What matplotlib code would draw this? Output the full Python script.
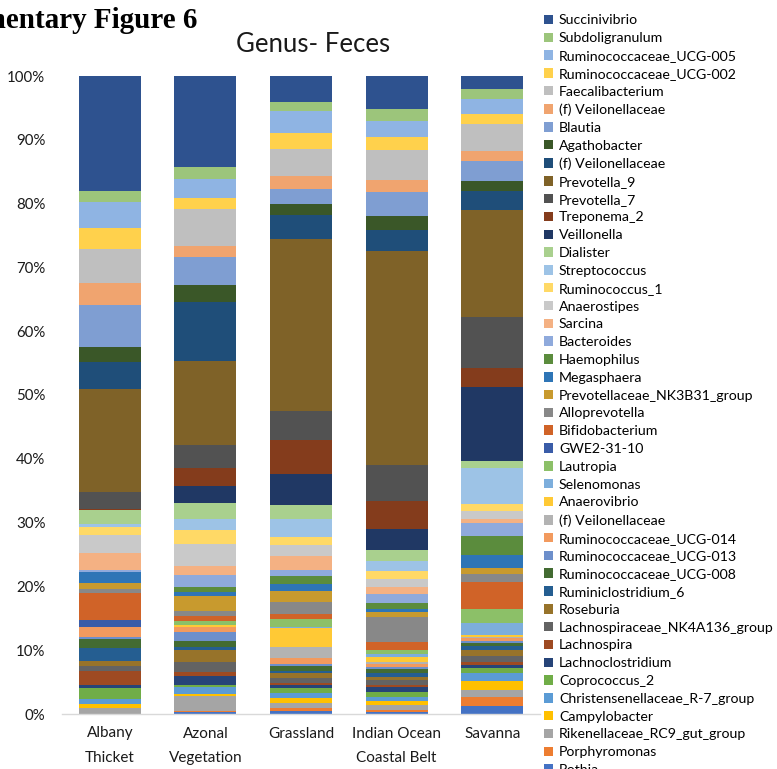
import matplotlib
matplotlib.use("Agg")
import matplotlib.pyplot as plt
from matplotlib.patches import Patch
import numpy as np

plt.rcParams['font.family'] = ['Lato', 'DejaVu Sans']

sites = ["Albany\nThicket", "Azonal\nVegetation", "Grassland", "Indian Ocean\nCoastal Belt", "Savanna"]

# legend order (top of stack first)
genera = ["Succinivibrio", "Subdoligranulum", "Ruminococcaceae_UCG-005", "Ruminococcaceae_UCG-002",
          "Faecalibacterium", "(f) Veilonellaceae", "Blautia", "Agathobacter", "(f) Veilonellaceae",
          "Prevotella_9", "Prevotella_7", "Treponema_2", "Veillonella", "Dialister", "Streptococcus",
          "Ruminococcus_1", "Anaerostipes", "Sarcina", "Bacteroides", "Haemophilus", "Megasphaera",
          "Prevotellaceae_NK3B31_group", "Alloprevotella", "Bifidobacterium", "GWE2-31-10", "Lautropia",
          "Selenomonas", "Anaerovibrio", "(f) Veilonellaceae", "Ruminococcaceae_UCG-014",
          "Ruminococcaceae_UCG-013", "Ruminococcaceae_UCG-008", "Ruminiclostridium_6", "Roseburia",
          "Lachnospiraceae_NK4A136_group", "Lachnospira", "Lachnoclostridium", "Coprococcus_2",
          "Christensenellaceae_R-7_group", "Campylobacter", "Rikenellaceae_RC9_gut_group",
          "Porphyromonas", "Rothia"]

colors = ["#2E528F", "#9CC57B", "#8FB4E3", "#FFD14C", "#BFBFBF", "#F0A46F", "#7F9ED2", "#3A5728",
          "#1F4E79", "#7F6228", "#525252", "#843C1C", "#203864", "#A9D08E", "#9DC3E6", "#FFD966",
          "#C9C9C9", "#F4B183", "#8FAADC", "#5B8C3D", "#2E75B6", "#C89A2E", "#888888", "#D06328",
          "#3A5CA8", "#8CC068", "#7DAEDC", "#FFC935", "#B3B3B3", "#F29A5E", "#6D8FCB", "#436B32",
          "#255E91", "#97732A", "#636363", "#9E4A22", "#264478", "#70AD47", "#5B9BD5", "#FFC000",
          "#A5A5A5", "#ED7D31", "#4472C4"]

albany = [18.0, 1.8, 4.1, 3.2, 5.3, 3.5, 6.6, 2.3, 4.2, 16.2, 2.6, 0.3, 0.0, 2.1, 0.5, 1.2, 2.8, 2.7,
          0.3, 0.0, 1.7, 1.0, 0.7, 4.1, 1.2, 0.0, 0.0, 0.0, 0.0, 1.5, 0.4, 1.4, 2.0, 0.8, 0.8, 2.2,
          0.4, 1.7, 0.9, 0.5, 1.0, 0.0, 0.0]
azonal = [14.2, 1.9, 3.0, 1.7, 5.8, 1.7, 4.4, 2.8, 9.1, 13.2, 3.6, 2.8, 2.8, 2.4, 1.8, 2.2, 3.4, 1.4,
          1.9, 0.7, 0.7, 2.4, 0.7, 0.9, 0.0, 0.6, 0.0, 0.2, 0.0, 0.8, 1.5, 0.9, 0.5, 1.8, 1.6, 0.6,
          1.5, 0.3, 1.0, 0.4, 2.3, 0.2, 0.3]
grassland = [4.0, 1.5, 3.5, 2.4, 4.2, 2.1, 2.3, 1.8, 3.7, 27.0, 4.6, 5.3, 4.8, 2.3, 2.7, 1.3, 1.7, 2.2,
             1.0, 1.3, 1.0, 1.8, 1.9, 0.7, 0.0, 1.2, 0.2, 3.0, 1.7, 0.9, 0.4, 0.8, 0.3, 0.8, 0.7, 0.3,
             0.6, 0.7, 0.8, 0.8, 0.7, 0.5, 0.5]
indian_ocean = [5.1, 2.0, 2.5, 2.0, 4.7, 1.9, 3.8, 2.1, 3.3, 33.5, 5.7, 4.4, 3.3, 1.7, 1.6, 1.2, 1.3, 1.1,
                1.4, 0.9, 0.5, 0.8, 3.9, 1.3, 0.0, 0.6, 0.4, 0.9, 0.3, 0.4, 0.3, 0.7, 0.6, 0.5, 0.8, 0.3,
                0.7, 0.8, 0.7, 0.6, 0.8, 0.3, 0.3]
savanna = [2.0, 1.6, 2.4, 1.5, 4.3, 1.5, 3.1, 1.7, 2.9, 16.8, 7.9, 3.1, 11.5, 1.1, 5.7, 1.1, 1.3, 0.5,
           2.1, 3.0, 2.0, 1.0, 1.2, 4.2, 0.0, 2.3, 1.8, 0.3, 0.2, 0.4, 0.4, 0.4, 0.7, 0.9, 0.9, 0.5,
           0.5, 0.8, 1.3, 1.4, 1.1, 1.3, 1.3]

yticks = [0, 10, 20, 30, 40, 50, 60, 70, 80, 90, 100]
ytick_labels = ["0%", "10%", "20%", "30%", "40%", "50%", "60%", "70%", "80%", "90%", "100%"]

data = np.array([albany, azonal, grassland, indian_ocean, savanna])  # sites x genera

W, H = 777, 769
fig = plt.figure(figsize=(W / 100, H / 100), dpi=100)
ax = fig.add_axes([62 / W, (H - 714) / H, 478 / W, (714 - 76) / H])

x = np.arange(len(sites))
bottom = np.zeros(len(sites))
for j in range(len(genera) - 1, -1, -1):
    vals = data[:, j]
    ax.bar(x, vals, width=0.65, bottom=bottom, color=colors[j], linewidth=0)
    bottom += vals

ax.set_xlim(-0.5, len(sites) - 0.5)
ax.set_ylim(0, 100)
ax.set_yticks(yticks)
ax.set_yticklabels(ytick_labels, fontsize=10.8, color="#1a1a1a")
ax.set_xticks(x)
ax.set_xticklabels(sites, fontsize=11, color="#1a1a1a", linespacing=1.95)
ax.tick_params(axis='y', length=0, pad=12)
ax.tick_params(axis='x', length=0, pad=9)
for s in ["top", "right", "left"]:
    ax.spines[s].set_visible(False)
ax.spines["bottom"].set_color("#D9D9D9")
ax.spines["bottom"].set_linewidth(1.0)

fig.text(313 / W, 1 - 44 / H, "Genus- Feces", fontsize=18.5, ha="center", va="center", color="#1a1a1a")
fig.text(197 / W, 1 - 21 / H, "Supplementary Figure 6", fontsize=21, fontweight="bold",
         family="Liberation Serif", ha="right", va="center")

handles = [Patch(facecolor=c, edgecolor="none") for c in colors]
fig.legend(handles, genera, loc="upper left", bbox_to_anchor=(544 / W, 1 - 14.5 / H),
           frameon=False, borderaxespad=0, borderpad=0, handlelength=0.65, handleheight=0.65,
           handletextpad=0.4, labelspacing=0.41, fontsize=10.2)

fig.savefig("out.png", dpi=100)
